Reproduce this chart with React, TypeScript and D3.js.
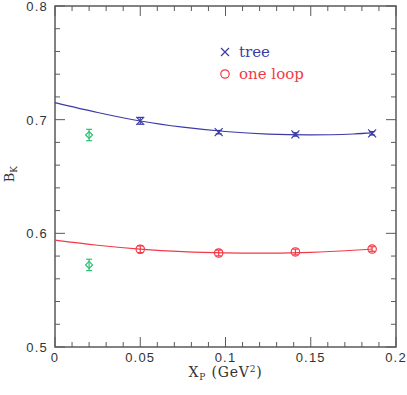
import React, { useEffect, useRef } from 'react';
import * as d3 from 'd3';

// measured points
const xSim = [0.05, 0.096, 0.141, 0.186];
const treeVals = [0.699, 0.689, 0.687, 0.688];
const treeErr = [0.003, 0.0015, 0.0015, 0.0015];
const loopVals = [0.586, 0.5827, 0.5836, 0.5862];
const loopErr = [0.003, 0.0025, 0.0025, 0.002];

// extrapolated points (green)
const xExtrap = [0.02, 0.02];
const extrapVals = [0.6865, 0.5722];
const extrapErr = [0.005, 0.005];

// fit curves
const xFit = [0, 0.025, 0.05, 0.075, 0.1, 0.125, 0.15, 0.175, 0.186];
const treeFit = [0.715, 0.7063, 0.6988, 0.6934, 0.6896, 0.6873, 0.6866, 0.6874, 0.6883];
const loopFit = [0.594, 0.5895, 0.5861, 0.5839, 0.5828, 0.5826, 0.5833, 0.5851, 0.5862];

const xTicks = [0, 0.05, 0.1, 0.15, 0.2];
const xTickLabels = ['0', '0.05', '0.1', '0.15', '0.2'];
const yTicks = [0.5, 0.6, 0.7, 0.8];
const yTickLabels = ['0.5', '0.6', '0.7', '0.8'];

const BLUE = '#3b3ba6';
const RED = '#f23a46';
const GREEN = '#2fbf74';
const AXIS = '#5a5a5a';

function App() {
    const svgRef = useRef<SVGSVGElement>(null);

    useEffect(() => {
        const width = 407;
        const height = 395;
        const margin = { top: 6, right: 11, bottom: 48, left: 55 };

        const svg = d3.select(svgRef.current);
        svg.selectAll('*').remove();
        svg.attr('width', width).attr('height', height);

        const x = d3.scaleLinear().domain([0, 0.2]).range([margin.left, width - margin.right]);
        const y = d3.scaleLinear().domain([0.5, 0.8]).range([height - margin.bottom, margin.top]);

        const [x0, x1] = x.range();
        const [y0, y1] = y.range();

        // frame
        svg.append('rect')
            .attr('x', x0).attr('y', y1)
            .attr('width', x1 - x0).attr('height', y0 - y1)
            .attr('fill', 'none').attr('stroke', AXIS).attr('stroke-width', 1.5);

        // x ticks, bottom and top
        const xMinor = d3.range(0, 21).map(i => i / 100);
        xMinor.forEach((v, i) => {
            const len = i % 5 === 0 ? 10 : 5;
            svg.append('line').attr('x1', x(v)).attr('x2', x(v)).attr('y1', y0).attr('y2', y0 - len)
                .attr('stroke', AXIS).attr('stroke-width', 1);
            svg.append('line').attr('x1', x(v)).attr('x2', x(v)).attr('y1', y1).attr('y2', y1 + len)
                .attr('stroke', AXIS).attr('stroke-width', 1);
        });

        // y ticks, left and right
        const yMinor = d3.range(0, 16).map(i => 0.5 + i * 0.02);
        yMinor.forEach((v, i) => {
            const len = i % 5 === 0 ? 10 : 5;
            svg.append('line').attr('x1', x0).attr('x2', x0 + len).attr('y1', y(v)).attr('y2', y(v))
                .attr('stroke', AXIS).attr('stroke-width', 1);
            svg.append('line').attr('x1', x1).attr('x2', x1 - len).attr('y1', y(v)).attr('y2', y(v))
                .attr('stroke', AXIS).attr('stroke-width', 1);
        });

        const tickFont = '"Liberation Sans", Arial, sans-serif';

        svg.selectAll('.xlabel')
            .data(xTicks)
            .enter()
            .append('text')
            .attr('x', d => x(d))
            .attr('y', y0 + 15)
            .attr('text-anchor', 'middle')
            .attr('font-family', tickFont)
            .attr('font-size', 13)
            .attr('letter-spacing', 1.2)
            .attr('fill', '#333')
            .text((d, i) => xTickLabels[i]);

        svg.selectAll('.ylabel')
            .data(yTicks)
            .enter()
            .append('text')
            .attr('x', x0 - 7)
            .attr('y', d => y(d) + 5)
            .attr('text-anchor', 'end')
            .attr('font-family', tickFont)
            .attr('font-size', 13)
            .attr('letter-spacing', 1.2)
            .attr('fill', '#333')
            .text((d, i) => yTickLabels[i]);

        const serif = '"DejaVu Serif", "Liberation Serif", serif';

        // x axis title
        const xt = svg.append('text')
            .attr('x', x(0.1))
            .attr('y', 377)
            .attr('text-anchor', 'middle')
            .attr('font-family', serif)
            .attr('font-size', 14)
            .attr('letter-spacing', 0.8)
            .attr('fill', '#333');
        xt.append('tspan').text('X');
        xt.append('tspan').attr('font-size', 9).attr('dy', 3).text('P');
        xt.append('tspan').attr('dy', -3).text(' (GeV');
        xt.append('tspan').attr('font-size', 9).attr('dy', -5).text('2');
        xt.append('tspan').attr('dy', 5).text(')');

        // y axis title
        const yt = svg.append('text')
            .attr('transform', `translate(13.5, ${y(0.652)}) rotate(-90)`)
            .attr('text-anchor', 'middle')
            .attr('font-family', serif)
            .attr('font-size', 13)
            .attr('fill', '#333');
        yt.append('tspan').text('B');
        yt.append('tspan').attr('font-size', 9).attr('dy', 3).text('K');

        // fit curves
        const line = d3.line<number>()
            .x((d, i) => x(xFit[i]))
            .y(d => y(d))
            .curve(d3.curveCatmullRom);

        svg.append('path').attr('d', line(treeFit)).attr('fill', 'none')
            .attr('stroke', BLUE).attr('stroke-width', 1.2);
        svg.append('path').attr('d', line(loopFit)).attr('fill', 'none')
            .attr('stroke', RED).attr('stroke-width', 1.2);

        const errBar = (cx: number, v: number, e: number, color: string) => {
            const g = svg.append('g').attr('stroke', color).attr('stroke-width', 1.2);
            g.append('line').attr('x1', x(cx)).attr('x2', x(cx)).attr('y1', y(v - e)).attr('y2', y(v + e));
            g.append('line').attr('x1', x(cx) - 3).attr('x2', x(cx) + 3).attr('y1', y(v - e)).attr('y2', y(v - e));
            g.append('line').attr('x1', x(cx) - 3).attr('x2', x(cx) + 3).attr('y1', y(v + e)).attr('y2', y(v + e));
        };

        const cross = (px: number, py: number, color: string) => {
            const s = 4;
            svg.append('path')
                .attr('d', `M${px - s},${py - s}L${px + s},${py + s}M${px - s},${py + s}L${px + s},${py - s}`)
                .attr('stroke', color).attr('stroke-width', 1.2).attr('fill', 'none');
        };

        const circle = (px: number, py: number, color: string) => {
            svg.append('circle').attr('cx', px).attr('cy', py).attr('r', 4.2)
                .attr('fill', 'none').attr('stroke', color).attr('stroke-width', 1.2);
        };

        // tree points
        xSim.forEach((xv, i) => {
            errBar(xv, treeVals[i], treeErr[i], BLUE);
            cross(x(xv), y(treeVals[i]), BLUE);
        });

        // one loop points
        xSim.forEach((xv, i) => {
            errBar(xv, loopVals[i], loopErr[i], RED);
            circle(x(xv), y(loopVals[i]), RED);
        });

        // extrapolated points
        xExtrap.forEach((xv, i) => {
            errBar(xv, extrapVals[i], extrapErr[i], GREEN);
            const px = x(xv);
            const py = y(extrapVals[i]);
            const s = 3.5;
            svg.append('path')
                .attr('d', `M${px},${py - s}L${px + s},${py}L${px},${py + s}L${px - s},${py}Z`)
                .attr('fill', 'none').attr('stroke', GREEN).attr('stroke-width', 1.2);
        });

        // legend
        cross(225, 52, BLUE);
        svg.append('text').attr('x', 239).attr('y', 57)
            .attr('font-family', serif).attr('font-size', 15).attr('fill', BLUE).text('tree');
        circle(225, 74, RED);
        svg.append('text').attr('x', 239).attr('y', 79)
            .attr('font-family', serif).attr('font-size', 15).attr('fill', RED).text('one loop');
    }, []);

    return <svg ref={svgRef} style={{ position: 'absolute', left: 0, top: 0 }}></svg>;
}

export default App;
